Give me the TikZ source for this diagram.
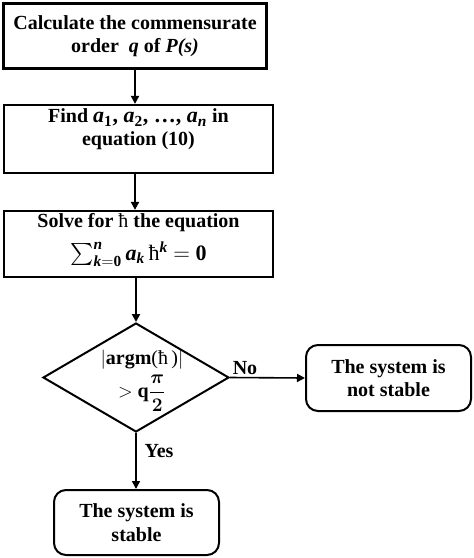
\documentclass[tikz,border=0pt]{standalone}
\usepackage{amsmath, amssymb}
\usepackage{fontspec}
\setmainfont{Liberation Serif}
\newcommand{\hbarsym}{{\mdseries ħ}}
\newcommand{\coef}[1]{\textit{a}$_{\textit{#1}}$}
\usetikzlibrary{shapes.geometric,arrows.meta}

\begin{document}
\begin{tikzpicture}[x=0.75pt,y=-0.75pt,
  every node/.style={font=\fontsize{15}{17.5}\selectfont\bfseries, align=center},
  procbox/.style={draw, line width=1.7pt, inner sep=0pt},
  endbox/.style={draw, line width=1.5pt, rounded corners=9pt, inner sep=0pt},
  flow/.style={line width=1.5pt, -{Triangle[length=6pt,width=6pt]}}]
\useasboundingbox (0,0) rectangle (474,558);
\node[procbox, line width=2.2pt, minimum width=197pt, minimum height=48.75pt] (order) at (135,36) {Calculate the commensurate\\ order \ \textit{q} of \textit{P(s)}};
\node[procbox, minimum width=201.75pt, minimum height=51pt] (coeffs) at (138.5,139) {Find {\fontsize{16.5}{17.5}\selectfont\coef{\textup{1}}, \coef{\textup{2}}, \dots, \coef{n}} in\\ equation (10)\\ \mbox{}};
\node[procbox, minimum width=201.75pt, minimum height=49.5pt] (solve) at (138.5,244) {Solve for \hbarsym\ the equation\\[7pt] {\fontsize{16.5}{17.5}\selectfont$\sum_{\textit{k}=\text{0}}^{\textit{n}}$\,\coef{k}\,\hbarsym$^{\textit{k}}$ $=$ 0}\\[-7pt] \mbox{}};
\node[draw, diamond, line width=1.5pt, minimum width=139.5pt, minimum height=81.75pt, inner sep=0pt] (test) at (136,377.5) {};
\node (testtext) at (142,381) {$|$argm{\mdseries(\hbarsym\,)}$|$\\[3pt] $>$ q$\boldsymbol{\dfrac{\pi}{2}}$};
\node[endbox, minimum width=123.75pt, minimum height=49.5pt] (unstable) at (388.5,378) {The system is\\ not stable};
\node[endbox, minimum width=123.75pt, minimum height=48.75pt] (stable) at (136.5,522.5) {The system is\\ stable};
\node (no) at (245,368) {No};
\node (yes) at (159,451) {Yes};
\draw[flow] (order.south) -- (order.south |- coeffs.north);
\draw[flow] (order.south |- coeffs.south) -- (order.south |- solve.north);
\draw[flow] (test.north |- solve.south) -- (test.north);
\draw[flow, line width=1.2pt] (test.east) -- (unstable.west);
\draw[flow, line width=1.2pt] (test.south) -- (test.south |- stable.north);
\end{tikzpicture}
\end{document}
